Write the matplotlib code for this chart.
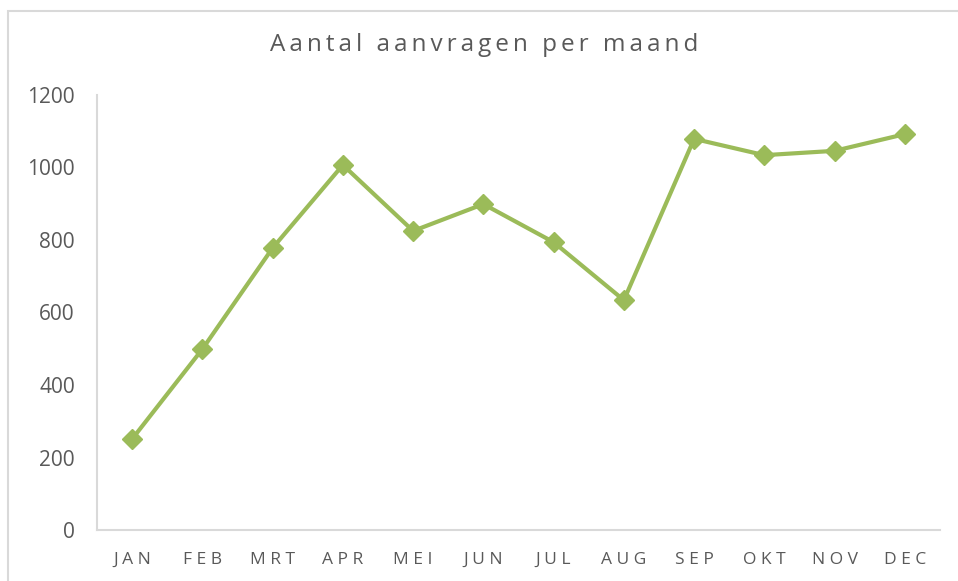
import matplotlib
matplotlib.use('Agg')
import matplotlib.pyplot as plt
from matplotlib.patches import Rectangle

plt.rcParams['font.family'] = ['Open Sans', 'DejaVu Sans']

months = ['JAN', 'FEB', 'MRT', 'APR', 'MEI', 'JUN', 'JUL', 'AUG', 'SEP', 'OKT', 'NOV', 'DEC']
aanvragen = [251, 499, 778, 1007, 825, 899, 794, 634, 1079, 1034, 1046, 1092]
yticks = [0, 200, 400, 600, 800, 1000, 1200]
title = 'Aantal aanvragen per maand'

green = '#9BBB59'
grey = '#D9D9D9'
text_col = '#595959'

def spaced(s, sep='\u2009'):
    # mimic letter spacing
    return sep.join(s)

fig = plt.figure(figsize=(9.58, 5.81), dpi=100)
ax = fig.add_axes([97/958, 1 - 530/581, (940 - 97)/958, (530 - 95)/581])

x = list(range(len(months)))
ax.plot(x, aanvragen, color=green, lw=3, marker='D', markersize=10,
        markeredgecolor=green, markerfacecolor=green, solid_joinstyle='miter')

ax.set_xlim(-0.5, len(months) - 0.5)
ax.set_ylim(0, 1200)
ax.set_yticks(yticks)
ax.set_yticklabels([str(v) for v in yticks])
ax.set_xticks(x)
ax.set_xticklabels([spaced(m, ' ') for m in months])
ax.tick_params(axis='y', length=0, pad=16, labelsize=15, labelcolor=text_col)
ax.tick_params(axis='x', length=0, pad=16, labelsize=12.5, labelcolor=text_col)

for s in ['top', 'right']:
    ax.spines[s].set_visible(False)
for s in ['left', 'bottom']:
    ax.spines[s].set_color(grey)
    ax.spines[s].set_linewidth(1.5)

fig.text(484/958, 1 - 45/581, spaced(title, '\u2009'), ha='center', va='center',
         fontsize=17.5, color=text_col)

# chart area border
fig.add_artist(Rectangle((8/958, -0.1), 1.0, 1.1 - 11/581, transform=fig.transFigure,
                         fill=False, ec=grey, lw=1.5))

fig.savefig('out.png', dpi=100)
